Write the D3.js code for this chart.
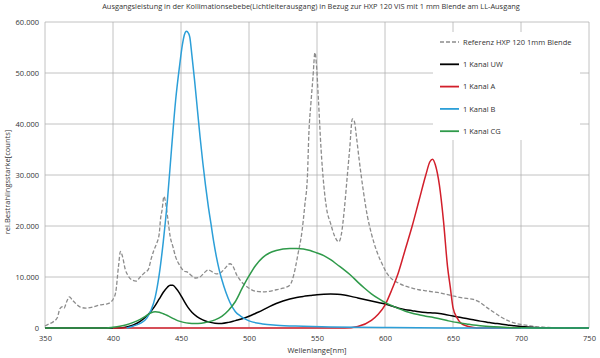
<!DOCTYPE html>
<html><head><meta charset="utf-8">
<script src="https://cdn.jsdelivr.net/npm/d3@7/dist/d3.min.js"></script>
<style>body{margin:0;background:#fff}svg{display:block}text{font-family:"Open Sans","Noto Sans",sans-serif;fill:#333}</style>
</head><body><svg id="c" width="600" height="358"></svg>
<script>
const titleText = "Ausgangsleistung in der Kollimationsebebe(Lichtleiterausgang) in Bezug zur HXP 120 VIS mit 1 mm Blende am LL-Ausgang";
const xTitle = "Wellenlange[nm]";
const yTitle = "rel.Bestrahlingsstarke[counts]";
const xTicks = [350,400,450,500,550,600,650,700,750];
const yTicks = [0,10000,20000,30000,40000,50000,60000];
const seriesNames = ["Referenz HXP 120 1mm Blende","1 Kanal UW","1 Kanal A","1 Kanal B","1 Kanal CG"];

const refSeries = [[350,400],[353,800],[356,1200],[359,2000],[361,3800],[363,4200],[364,3900],[366,5200],[368,6100],[370,5500],[373,4700],[376,4100],[380,3900],[385,4100],[390,4500],[395,4700],[398,5000],[400,5600],[402,7000],[404,12000],[405.5,15000],[407,14000],[409,11500],[411,10300],[414,9400],[417,9200],[420,10000],[423,10800],[426,11500],[428,13500],[430,15200],[432,16500],[434,18500],[435,21500],[436,23000],[437.5,25800],[439,24000],[440.5,21000],[442,18000],[444,16000],[446,14000],[449,12300],[452,11200],[455,10900],[458,10200],[461,9800],[464,10000],[467,10800],[470,11400],[473,11000],[476,10600],[479,10800],[482,11600],[486,12600],[488,12200],[491,10400],[494,9200],[497,8400],[500,7800],[505,7200],[510,7100],[515,7200],[520,7500],[525,7800],[530,8400],[533,10500],[536,14500],[539,19000],[541,24000],[543,30000],[544,38000],[545.5,44000],[547,49000],[548.5,54000],[549.5,52000],[551,45000],[553,35000],[555,28000],[557,23500],[560,20500],[563,18000],[566,16900],[568,18500],[570,23000],[572,29000],[574,35000],[576,41000],[577.5,40500],[579,37500],[581,33000],[584,27000],[587,22000],[590,18500],[594,15000],[598,12500],[602,10500],[606,9400],[610,8800],[615,8200],[620,7800],[625,7500],[630,7300],[635,7100],[640,6900],[645,6600],[650,6300],[655,6000],[660,5800],[665,5600],[670,5000],[675,4000],[680,3100],[685,2200],[690,1500],[695,1000],[700,700],[705,500],[710,300],[715,200],[720,100],[730,0],[750,0]];
const uwSeries = [[350,0],[405,0],[410,200],[415,600],[420,1300],[425,2400],[430,4000],[434,5700],[437,7000],[440,8000],[442,8400],[444,8400],[446,7900],[449,6800],[452,5400],[455,4100],[458,3100],[462,2200],[466,1600],[470,1200],[475,950],[480,900],[485,1100],[490,1450],[495,1800],[500,2300],[505,2900],[510,3500],[515,4200],[520,4800],[525,5300],[530,5700],[535,6000],[540,6200],[545,6350],[550,6500],[555,6600],[560,6650],[565,6600],[570,6450],[575,6200],[580,5900],[585,5600],[590,5300],[595,5000],[600,4700],[605,4300],[610,3900],[615,3600],[620,3400],[625,3200],[630,3050],[635,2950],[640,2850],[645,2600],[650,2350],[655,2100],[660,1850],[665,1600],[670,1350],[675,1150],[680,950],[685,800],[690,600],[695,450],[700,300],[705,180],[710,100],[720,30],[730,0],[750,0]];
const aSeries = [[400,0],[570,0],[580,300],[590,1500],[595,2700],[600,4500],[605,7500],[610,11000],[615,15500],[620,20000],[625,25000],[630,30000],[633,32600],[635,33100],[637,32000],[640,28000],[643,21000],[646,12000],[648,8000],[650,4000],[653,2000],[656,900],[660,400],[665,100],[670,0],[700,0]];
const bSeries = [[410,0],[415,400],[420,900],[425,2000],[428,3500],[431,6000],[434,10500],[437,17000],[440,25000],[443,35000],[446,44500],[449,51500],[451,55500],[452.5,57500],[454,58200],[455.5,57800],[456.5,57000],[458,53500],[460,48500],[462,43000],[464,37500],[466,32500],[468,28000],[470,24000],[472,20500],[474,17000],[476,14000],[478,11500],[480,9500],[483,7000],[486,5000],[490,3200],[494,2300],[500,1400],[510,800],[520,550],[540,350],[560,200],[600,100],[650,0],[750,0]];
const cgSeries = [[350,0],[395,0],[400,150],[405,350],[410,650],[415,1100],[420,1700],[425,2500],[428,3000],[431,3200],[434,3100],[437,2800],[440,2450],[444,1900],[448,1400],[452,1100],[456,950],[460,900],[465,950],[470,1200],[475,1600],[480,2300],[485,3500],[490,5200],[495,7800],[500,10200],[505,12300],[510,13800],[515,14700],[520,15200],[525,15500],[530,15600],[535,15600],[540,15500],[545,15200],[550,14700],[555,14200],[560,13400],[565,12400],[570,11400],[575,10300],[580,9000],[585,7800],[590,6700],[595,5800],[600,5000],[605,4400],[610,3800],[615,3300],[620,2900],[625,2600],[630,2300],[635,2100],[640,1800],[645,1500],[650,1200],[655,1000],[660,800],[665,600],[670,450],[680,250],[690,120],[700,50],[710,0],[750,0]];

const svg = d3.select("#c");
const L = 45, R = 589, T = 22, B = 328;
const x = d3.scaleLinear().domain([350,750]).range([L,R]);
const y = d3.scaleLinear().domain([0,60000]).range([B,T]);
const fmt = v => d3.format(",")(v).replace(/,/g,".");

// grid
const g = svg.append("g");
g.selectAll(".vg").data(xTicks).enter().append("line")
  .attr("x1",d=>x(d)).attr("x2",d=>x(d)).attr("y1",T).attr("y2",B)
  .attr("stroke","#adadad").attr("stroke-width",0.75);
g.selectAll(".hg").data(yTicks).enter().append("line")
  .attr("x1",L).attr("x2",R).attr("y1",d=>y(d)).attr("y2",d=>y(d))
  .attr("stroke","#adadad").attr("stroke-width",0.75);

// axes labels via d3 axes
const xAxis = svg.append("g").attr("transform",`translate(0,${B})`)
  .call(d3.axisBottom(x).tickValues(xTicks).tickSize(0).tickPadding(8).tickFormat(d3.format("d")));
xAxis.select(".domain").remove();
xAxis.selectAll("text").style("font-size","7.5px").attr("fill","#444");
const yAxis = svg.append("g").attr("transform",`translate(${L},0)`)
  .call(d3.axisLeft(y).tickValues(yTicks).tickSize(0).tickPadding(6).tickFormat(fmt));
yAxis.select(".domain").remove();
yAxis.selectAll("text").style("font-size","7.5px").attr("fill","#444");

svg.append("text").attr("x",311).attr("y",9).attr("text-anchor","middle")
  .style("font-size","7.4px").attr("fill","#333").text(titleText);
svg.append("text").attr("x",317).attr("y",353).attr("text-anchor","middle")
  .style("font-size","7.5px").attr("fill","#333").text(xTitle);
svg.append("text").attr("transform","translate(10,182) rotate(-90)").attr("text-anchor","middle")
  .style("font-size","7.5px").attr("fill","#333").text(yTitle);

const line = d3.line().x(d=>x(d[0])).y(d=>y(d[1])).curve(d3.curveMonotoneX);
const styles = [
  {data:refSeries,color:"#8c8c8c",dash:"4,2",w:1.3},
  {data:uwSeries,color:"#000000",dash:null,w:1.5},
  {data:aSeries,color:"#d21f2b",dash:null,w:1.5},
  {data:bSeries,color:"#2c9fd8",dash:null,w:1.5},
  {data:cgSeries,color:"#2f9a4a",dash:null,w:1.5}
];
styles.forEach(s=>{
  svg.append("path").datum(s.data).attr("d",line).attr("fill","none")
    .attr("stroke",s.color).attr("stroke-width",s.w)
    .attr("stroke-dasharray",s.dash);
});

// legend
svg.append("rect").attr("x",433).attr("y",32).attr("width",147).attr("height",108).attr("fill","#fff");
const leg = svg.append("g");
seriesNames.forEach((n,i)=>{
  const yy = 42 + i*22.3;
  leg.append("line").attr("x1",440).attr("x2",459).attr("y1",yy).attr("y2",yy)
    .attr("stroke",styles[i].color).attr("stroke-width",styles[i].dash?1.3:1.8)
    .attr("stroke-dasharray",styles[i].dash);
  leg.append("text").attr("x",463).attr("y",yy+2.6).style("font-size","7.5px").attr("fill","#333").text(n);
});
</script></body></html>
